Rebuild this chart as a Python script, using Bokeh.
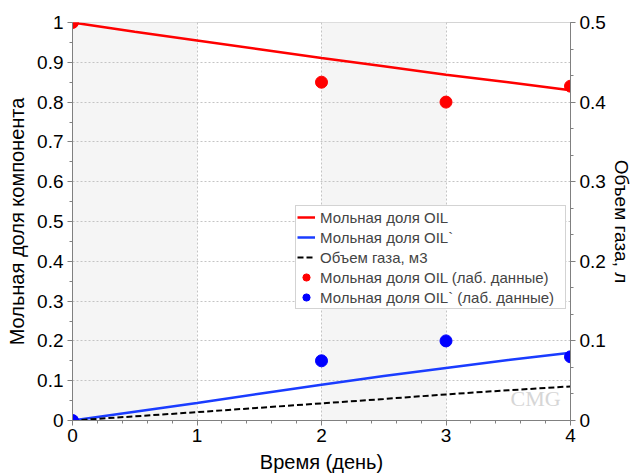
from bokeh.plotting import figure
from bokeh.models import (Range1d, LinearAxis, SingleIntervalTicker, CustomJSTickFormatter,
                          BoxAnnotation, Legend, LegendItem, Label)
from bokeh.embed import file_html
from bokeh.resources import INLINE

# ---- data ----
t_sim = [0, 0.5, 1, 1.5, 2, 2.5, 3, 3.5, 4]
oil_sim = [1.0, 0.977, 0.955, 0.933, 0.911, 0.89, 0.869, 0.85, 0.830]
oil2_sim = [0.0, 0.022, 0.044, 0.067, 0.09, 0.112, 0.132, 0.152, 0.170]
gas_sim = [0.0, 0.0052, 0.0105, 0.016, 0.0215, 0.027, 0.0328, 0.038, 0.0428]

t_lab = [0, 2, 3, 4]
oil_lab = [1.0, 0.85, 0.80, 0.84]
oil2_lab = [0.0, 0.15, 0.20, 0.16]

shaded_days = [(0, 1), (2, 3)]

FONT = "Liberation Sans"

p = figure(width=633, height=476, output_backend="svg", toolbar_location=None,
           x_range=Range1d(0, 4), y_range=Range1d(0, 1),
           min_border_left=72, min_border_right=62, min_border_top=22, min_border_bottom=56,
           frame_width=498, frame_height=398)
p.extra_y_ranges = {"gas": Range1d(0, 0.5)}
p.background_fill_color = "white"
p.border_fill_color = "white"
p.outline_line_color = "#d4d4d4"
p.outline_line_width = 1

# shaded bands under grid
for a, b in shaded_days:
    box = BoxAnnotation(left=a, right=b, fill_color="#f5f5f5", fill_alpha=1.0,
                        line_color=None, level="underlay")
    p.center.insert(0, box)

fmt = CustomJSTickFormatter(code="return String(Math.round(tick*10)/10);")

def style_axis(ax):
    ax.axis_line_color = "#808080"
    ax.major_tick_line_color = "#808080"
    ax.minor_tick_line_color = "#808080"
    ax.major_tick_out = 5
    ax.major_tick_in = 0
    ax.minor_tick_out = 3
    ax.minor_tick_in = 0
    ax.major_label_text_font = FONT
    ax.major_label_text_font_size = "19px"
    ax.major_label_text_color = "black"
    ax.axis_label_text_font = FONT
    ax.axis_label_text_font_size = "20px"
    ax.axis_label_text_font_style = "normal"
    ax.axis_label_text_color = "black"
    ax.axis_label_standoff = 6
    ax.formatter = fmt

p.xaxis.ticker = SingleIntervalTicker(interval=1, num_minor_ticks=5)
p.yaxis.ticker = SingleIntervalTicker(interval=0.1, num_minor_ticks=2)
p.xaxis.axis_label = "Время (день)"
p.yaxis.axis_label = "Мольная доля компонента"
for ax in p.xaxis + p.yaxis:
    style_axis(ax)
p.xaxis.major_label_standoff = 3
p.yaxis.major_label_standoff = 4

rax = LinearAxis(y_range_name="gas", axis_label="Объем газа, л",
                 ticker=SingleIntervalTicker(interval=0.1, num_minor_ticks=3))
style_axis(rax)
rax.major_label_standoff = 4
rax.axis_label_standoff = 2
rax.axis_label_text_font_size = "19px"
p.add_layout(rax, "right")

for g in (p.xgrid, p.ygrid):
    g.grid_line_color = "#c4c4c4"
    g.grid_line_dash = "2 2"
    g.grid_line_width = 1

r1 = p.line(t_sim, oil_sim, line_color="#ff0000", line_width=2.5)
r2 = p.line(t_sim, oil2_sim, line_color="#1a3cff", line_width=2.5)
r3 = p.line(t_sim, gas_sim, line_color="black", line_width=2, line_dash="6 3",
            y_range_name="gas")
r4 = p.scatter(t_lab, oil_lab, marker="circle", size=12, fill_color="#ff0000", line_color="#ff0000")
r5 = p.scatter(t_lab, oil2_lab, marker="circle", size=12, fill_color="#0000ff", line_color="#0000ff")

legend = Legend(items=[
    LegendItem(label="Мольная доля OIL", renderers=[r1]),
    LegendItem(label="Мольная доля OIL`", renderers=[r2]),
    LegendItem(label="Объем газа, м3", renderers=[r3]),
    LegendItem(label="Мольная доля OIL (лаб. данные)", renderers=[r4]),
    LegendItem(label="Мольная доля OIL` (лаб. данные)", renderers=[r5]),
], location=(223, 111))
legend.label_text_font = FONT
legend.label_text_font_size = "15px"
legend.label_height = 20
legend.label_width = 244
legend.glyph_height = 20
legend.glyph_width = 18
legend.label_standoff = 5
legend.spacing = 0
legend.padding = 1
legend.margin = 0
legend.border_line_color = "#a8a8a8"
legend.background_fill_color = "white"
legend.background_fill_alpha = 1.0
p.add_layout(legend, "center")

wm = Label(x=438, y=10, x_units="screen", y_units="screen", text="CMG",
           text_font="Liberation Serif", text_font_size="22px", text_color="#d6d6d6")
p.add_layout(wm)

open("out.html", "w").write(file_html(p, INLINE))
